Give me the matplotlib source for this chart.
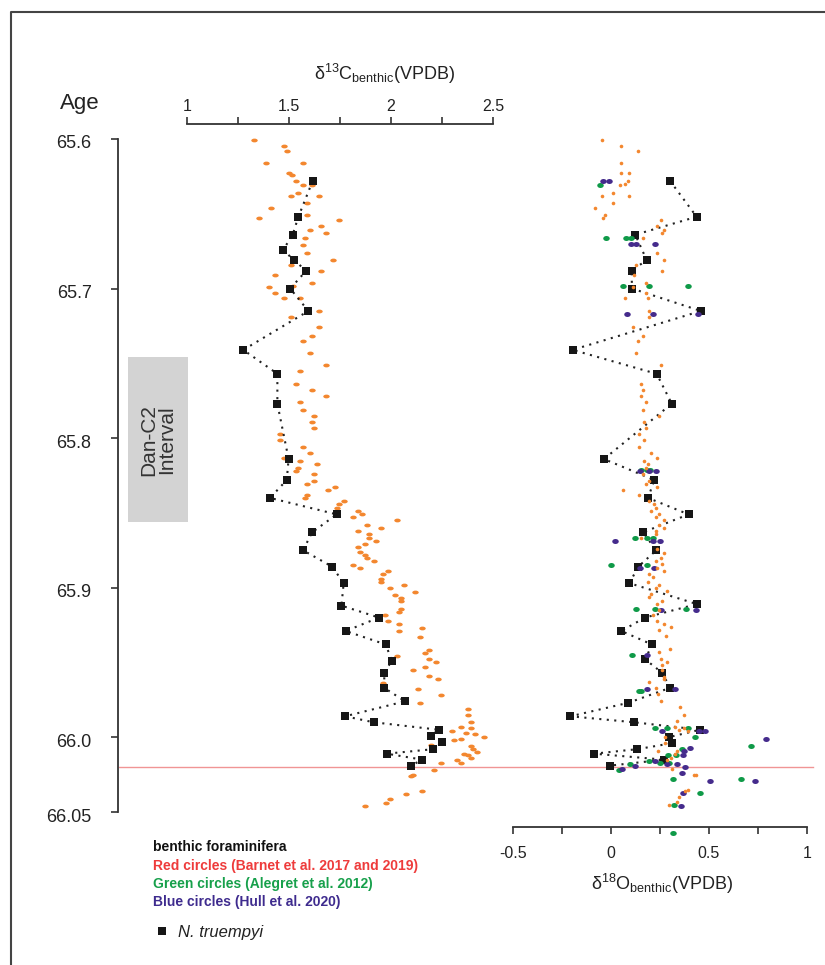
import matplotlib
matplotlib.use('Agg')
import matplotlib.pyplot as plt
from matplotlib.markers import MarkerStyle
from matplotlib.transforms import Affine2D, blended_transform_factory, ScaledTranslation
from matplotlib.patches import Rectangle
from matplotlib.lines import Line2D

plt.rcParams['font.family'] = ['Liberation Sans', 'DejaVu Sans']
plt.rcParams['mathtext.fontset'] = 'custom'
plt.rcParams['mathtext.rm'] = 'Liberation Sans'
plt.rcParams['mathtext.it'] = 'Liberation Sans:italic'

# ---- data (age in Ma, isotope values in permil VPDB) ----
# d13C, Barnet et al. (orange)
c13_age = [65.601, 65.605, 65.608, 65.616, 65.616, 65.623, 65.624, 65.628, 65.631, 65.631,
           65.636, 65.638, 65.638, 65.643, 65.646, 65.653, 65.651, 65.654, 65.658, 65.661,
           65.663, 65.666, 65.671, 65.676, 65.681, 65.684, 65.688, 65.691, 65.696, 65.699,
           65.698, 65.703, 65.706, 65.706, 65.715, 65.719, 65.726, 65.732, 65.735, 65.743,
           65.751, 65.755, 65.764, 65.768, 65.772, 65.776, 65.781, 65.785, 65.789, 65.793,
           65.797, 65.801, 65.806, 65.810, 65.813, 65.815, 65.817, 65.820, 65.822, 65.824,
           65.829, 65.831, 65.833, 65.835, 65.838, 65.840, 65.842, 65.844, 65.847, 65.849,
           65.851, 65.853, 65.855, 65.858, 65.860, 65.862, 65.864, 65.867, 65.869, 65.871,
           65.873, 65.876, 65.878, 65.880, 65.882, 65.885, 65.887, 65.889, 65.891, 65.894,
           65.896, 65.898, 65.900, 65.903, 65.905, 65.907, 65.909, 65.914, 65.916, 65.918,
           65.922, 65.924, 65.927, 65.929, 65.933, 65.942, 65.944, 65.946, 65.948, 65.950,
           65.953, 65.955, 65.959, 65.961, 65.964, 65.968, 65.972, 65.977, 65.981, 65.985,
           65.990, 65.993, 65.994, 65.996, 65.997, 65.998, 66.000, 66.001, 66.002, 66.005,
           66.006, 66.008, 66.010, 66.011, 66.012, 66.014, 66.015, 66.017, 66.017, 66.022,
           66.025, 66.026, 66.036, 66.038, 66.041, 66.044, 66.046]
c13_val = [1.330, 1.477, 1.489, 1.387, 1.567, 1.502, 1.513, 1.534, 1.567, 1.614,
           1.546, 1.511, 1.647, 1.590, 1.410, 1.355, 1.590, 1.747, 1.657, 1.601,
           1.680, 1.580, 1.567, 1.590, 1.714, 1.511, 1.657, 1.433, 1.613, 1.400,
           1.521, 1.433, 1.477, 1.556, 1.647, 1.511, 1.647, 1.613, 1.567, 1.601,
           1.680, 1.556, 1.534, 1.613, 1.680, 1.556, 1.567, 1.624, 1.613, 1.624,
           1.454, 1.454, 1.567, 1.601, 1.477, 1.556, 1.636, 1.546, 1.534, 1.624,
           1.624, 1.590, 1.725, 1.691, 1.590, 1.578, 1.770, 1.747, 1.735, 1.837,
           1.859, 1.815, 2.028, 1.882, 1.949, 1.837, 1.894, 1.894, 1.926, 1.871,
           1.837, 1.848, 1.871, 1.882, 1.917, 1.815, 1.848, 1.984, 1.961, 1.949,
           1.949, 2.062, 1.995, 2.118, 2.018, 2.051, 2.051, 2.051, 2.039, 1.972,
           1.984, 2.041, 2.154, 2.041, 2.142, 2.188, 2.165, 2.029, 2.188, 2.221,
           2.165, 2.108, 2.188, 2.232, 1.962, 2.131, 2.243, 2.142, 2.379, 2.379,
           2.391, 2.345, 2.391, 2.299, 2.368, 2.413, 2.458, 2.345, 2.310, 2.196,
           2.391, 2.402, 2.423, 2.356, 2.379, 2.391, 2.322, 2.345, 2.243, 2.209,
           2.109, 2.098, 2.154, 2.075, 1.995, 1.974, 1.871]

# d18O, Barnet et al. (orange)
o18_age = [65.601, 65.605, 65.608, 65.616, 65.623, 65.623, 65.628, 65.631, 65.630, 65.636,
           65.638, 65.638, 65.643, 65.646, 65.651, 65.653, 65.654, 65.658, 65.661, 65.663,
           65.666, 65.676, 65.681, 65.684, 65.688, 65.691, 65.696, 65.699, 65.703, 65.706,
           65.706, 65.715, 65.719, 65.726, 65.732, 65.735, 65.743, 65.751, 65.764, 65.768,
           65.772, 65.776, 65.781, 65.785, 65.789, 65.793, 65.797, 65.801, 65.806, 65.810,
           65.813, 65.815, 65.817, 65.820, 65.824, 65.829, 65.831, 65.833, 65.835, 65.838,
           65.842, 65.844, 65.847, 65.849, 65.851, 65.853, 65.855, 65.858, 65.860, 65.862,
           65.864, 65.867, 65.874, 65.877, 65.880, 65.882, 65.884, 65.887, 65.889, 65.891,
           65.893, 65.896, 65.898, 65.900, 65.902, 65.904, 65.906, 65.909, 65.911, 65.915,
           65.918, 65.922, 65.924, 65.926, 65.928, 65.932, 65.941, 65.943, 65.948, 65.950,
           65.952, 65.955, 65.960, 65.961, 65.963, 65.967, 65.971, 65.976, 65.980, 65.985,
           65.989, 65.993, 65.994, 65.995, 65.996, 66.000, 66.004, 66.009, 66.009, 66.011,
           66.014, 66.015, 66.021, 66.025, 66.025, 66.035, 66.036, 66.040, 66.043, 66.045]
o18_val = [-0.048, 0.053, 0.136, 0.053, 0.053, 0.094, 0.085, 0.044, 0.070, 0.010,
           -0.048, 0.094, 0.010, -0.082, -0.031, -0.039, 0.253, 0.236, 0.270, 0.262,
           0.162, 0.236, 0.270, 0.128, 0.262, 0.119, 0.179, 0.111, 0.179, 0.187,
           0.070, 0.196, 0.196, 0.111, 0.162, 0.136, 0.128, 0.253, 0.153, 0.162,
           0.153, 0.179, 0.162, 0.247, 0.170, 0.179, 0.145, 0.170, 0.145, 0.204,
           0.236, 0.170, 0.187, 0.179, 0.162, 0.196, 0.179, 0.236, 0.061, 0.145,
           0.196, 0.221, 0.228, 0.204, 0.245, 0.228, 0.270, 0.245, 0.270, 0.228,
           0.228, 0.153, 0.236, 0.270, 0.253, 0.228, 0.262, 0.236, 0.270, 0.196,
           0.213, 0.187, 0.245, 0.228, 0.287, 0.204, 0.196, 0.262, 0.236, 0.245,
           0.213, 0.236, 0.270, 0.304, 0.245, 0.279, 0.299, 0.245, 0.255, 0.287,
           0.262, 0.262, 0.270, 0.270, 0.196, 0.228, 0.238, 0.253, 0.354, 0.371,
           0.337, 0.328, 0.374, 0.345, 0.395, 0.277, 0.277, 0.241, 0.337, 0.328,
           0.304, 0.286, 0.313, 0.422, 0.435, 0.395, 0.378, 0.345, 0.337, 0.294]

# d18O, Alegret et al. 2012 (green)
green_age = [65.631, 65.666, 65.666, 65.666, 65.698, 65.698, 65.698, 65.821, 65.821, 65.821,
             65.867, 65.867, 65.867, 65.885, 65.885, 65.914, 65.914, 65.914, 65.945, 65.969,
             65.969, 65.994, 65.994, 65.994, 66.000, 66.006, 66.008, 66.012, 66.012, 66.016,
             66.017, 66.017, 66.018, 66.022, 66.028, 66.028, 66.037, 66.045, 66.064]
green_val = [-0.054, -0.026, 0.078, 0.102, 0.060, 0.194, 0.395, 0.153, 0.182, 0.199,
             0.124, 0.184, 0.216, 0.002, 0.185, 0.126, 0.223, 0.383, 0.105, 0.145,
             0.151, 0.224, 0.287, 0.395, 0.429, 0.716, 0.361, 0.330, 0.289, 0.192,
             0.252, 0.298, 0.099, 0.039, 0.316, 0.665, 0.456, 0.321, 0.318]

# d18O, Hull et al. 2020 (blue/purple)
blue_age = [65.628, 65.628, 65.670, 65.670, 65.670, 65.717, 65.717, 65.717, 65.822, 65.822,
            65.822, 65.869, 65.869, 65.869, 65.887, 65.887, 65.915, 65.915, 65.945, 65.968,
            65.968, 65.996, 65.996, 65.996, 66.001, 66.007, 66.009, 66.012, 66.016, 66.018,
            66.018, 66.019, 66.020, 66.021, 66.024, 66.029, 66.029, 66.037, 66.046]
blue_val = [-0.041, -0.012, 0.102, 0.126, 0.224, 0.080, 0.214, 0.442, 0.146, 0.192,
            0.230, 0.019, 0.214, 0.248, 0.150, 0.218, 0.257, 0.432, 0.182, 0.182,
            0.325, 0.259, 0.449, 0.480, 0.789, 0.405, 0.372, 0.366, 0.224, 0.286,
            0.337, 0.124, 0.376, 0.058, 0.362, 0.507, 0.736, 0.367, 0.359]

# N. truempyi (black squares)
nt_c_age = [65.628, 65.652, 65.664, 65.674, 65.681, 65.688, 65.700, 65.715, 65.741, 65.757,
            65.777, 65.814, 65.828, 65.840, 65.851, 65.863, 65.875, 65.886, 65.897, 65.912,
            65.920, 65.929, 65.938, 65.949, 65.957, 65.967, 65.976, 65.986, 65.990, 65.995,
            65.999, 66.003, 66.008, 66.011, 66.015, 66.019]
nt_c_val = [1.616, 1.546, 1.518, 1.472, 1.523, 1.585, 1.506, 1.595, 1.276, 1.443,
            1.443, 1.498, 1.489, 1.407, 1.734, 1.613, 1.569, 1.712, 1.768, 1.757,
            1.941, 1.778, 1.975, 2.003, 1.967, 1.967, 2.069, 1.775, 1.915, 2.234,
            2.196, 2.252, 2.208, 1.979, 2.154, 2.098]
nt_o_age = [65.628, 65.652, 65.664, 65.681, 65.688, 65.700, 65.715, 65.741, 65.757, 65.777,
            65.814, 65.828, 65.840, 65.851, 65.863, 65.875, 65.886, 65.897, 65.911, 65.920,
            65.929, 65.938, 65.948, 65.957, 65.967, 65.977, 65.986, 65.990, 65.995, 66.000,
            66.004, 66.008, 66.011, 66.015, 66.019]
nt_o_val = [0.301, 0.437, 0.124, 0.182, 0.105, 0.107, 0.459, -0.196, 0.233, 0.310,
            -0.036, 0.221, 0.189, 0.396, 0.163, 0.231, 0.139, 0.094, 0.439, 0.173,
            0.053, 0.209, 0.175, 0.262, 0.301, 0.088, -0.207, 0.117, 0.454, 0.294,
            0.311, 0.134, -0.087, 0.270, -0.005]

age_ticks = [65.6, 65.7, 65.8, 65.9, 66.0, 66.05]
age_labels = ['65.6', '65.7', '65.8', '65.9', '66.0', '66.05']
kpg_age = 66.02
dan_c2 = (65.746, 65.856)

ORANGE = '#f3872f'
GREEN = '#0f9a48'
PURPLE = '#452b8c'
SQ = '#161616'
AXC = '#333333'

W, H = 825, 965
fig = plt.figure(figsize=(W / 100, H / 100), dpi=100)


def fx(px):
    return px / W


def fy(py):
    return 1 - py / H


y_top, y_bot = 139, 812
ax_c = fig.add_axes([fx(187), fy(y_bot), fx(493) - fx(187), fy(y_top) - fy(y_bot)])
ax_o = fig.add_axes([fx(513), fy(y_bot), fx(807) - fx(513), fy(y_top) - fy(y_bot)])

for ax in (ax_c, ax_o):
    ax.set_ylim(66.05, 65.6)
    ax.patch.set_visible(False)
    for s in ax.spines.values():
        s.set_visible(False)
        s.set_color(AXC)
        s.set_linewidth(1.3)

# --- d13C panel ---
ell_c = MarkerStyle('o', transform=Affine2D().scale(1.45, 0.85))
ax_c.plot(c13_val, c13_age, ls='none', marker=ell_c, ms=3.2, color=ORANGE, mew=0, clip_on=False, zorder=2)
ax_c.plot(nt_c_val, nt_c_age, color='#222222', lw=1.5, ls=(0, (1, 2.6)), clip_on=False, zorder=3)
ax_c.plot(nt_c_val, nt_c_age, ls='none', marker='s', ms=6.4, color=SQ, mew=0, clip_on=False, zorder=4)

ax_c.set_xlim(1, 2.5)
ax_c.spines['top'].set_visible(True)
ax_c.spines['top'].set_position(('outward', 15 * 0.72))
ax_c.xaxis.tick_top()
ax_c.set_xticks([1, 1.5, 2, 2.5])
ax_c.set_xticklabels(['1', '1.5', '2', '2.5'])
ax_c.set_xticks([1.25, 1.75, 2.25], minor=True)
ax_c.tick_params(axis='x', which='both', direction='out', length=5, width=1.2, color=AXC,
                 labelsize=11.5, pad=2, labelcolor='#222222')

ax_c.spines['left'].set_visible(True)
ax_c.spines['left'].set_position(('outward', 69 * 0.72))
ax_c.spines['left'].set_bounds(65.6, 66.05)
ax_c.set_yticks(age_ticks)
ax_c.set_yticklabels(age_labels)
ax_c.tick_params(axis='y', direction='out', length=5, width=1.2, color=AXC,
                 labelsize=13, pad=14, labelcolor='#222222')
shift = ScaledTranslation(0, -3 / 100, fig.dpi_scale_trans)
for lab in ax_c.get_yticklabels():
    lab.set_transform(lab.get_transform() + shift)

# --- d18O panel ---
ell_g = MarkerStyle('o', transform=Affine2D().scale(1.3, 1.0))
ax_o.plot(nt_o_val, nt_o_age, color='#222222', lw=1.5, ls=(0, (1, 2.6)), clip_on=False, zorder=3)
ax_o.plot(nt_o_val, nt_o_age, ls='none', marker='s', ms=6.4, color=SQ, mew=0, clip_on=False, zorder=4)
ax_o.plot(green_val, green_age, ls='none', marker=ell_g, ms=3.6, color=GREEN, mew=0, clip_on=False, zorder=5)
ax_o.plot(blue_val, blue_age, ls='none', marker=ell_g, ms=3.6, color=PURPLE, mew=0, clip_on=False, zorder=5)
ax_o.plot(o18_val, o18_age, ls='none', marker='o', ms=2.6, color=ORANGE, mew=0, clip_on=False, zorder=6)

ax_o.set_xlim(-0.5, 1)
ax_o.spines['bottom'].set_visible(True)
ax_o.spines['bottom'].set_position(('outward', 15 * 0.72))
ax_o.set_xticks([-0.5, 0, 0.5, 1])
ax_o.set_xticklabels(['-0.5', '0', '0.5', '1'])
ax_o.set_xticks([-0.25, 0.25, 0.75], minor=True)
ax_o.set_yticks([])
ax_o.tick_params(axis='x', which='both', direction='out', length=5, width=1.2, color=AXC,
                 labelsize=11.5, pad=9, labelcolor='#222222')

# K-Pg boundary line across both panels
tr = blended_transform_factory(fig.transFigure, ax_c.transData)
ax_c.plot([fx(119), fx(813)], [kpg_age, kpg_age], transform=tr, color='#f09595', lw=1.0,
          clip_on=False, zorder=1)

# Dan-C2 box
ax_c.add_patch(Rectangle((fx(128), dan_c2[0]), fx(188) - fx(128), dan_c2[1] - dan_c2[0],
                         transform=tr, facecolor='#d3d3d3', edgecolor='none', clip_on=False, zorder=0))
ax_c.text(fx(158), (dan_c2[0] + dan_c2[1]) / 2, 'Dan-C2\nInterval', transform=tr, rotation=90,
          ha='center', va='center', fontsize=15, color='#333333', linespacing=0.95)

# titles
fig.text(fx(80), fy(103), 'Age', ha='center', va='center', fontsize=16, color='#222222')
fig.text(fx(384), fy(74), r'δ$^{13}$C$_{\mathrm{benthic}}$(VPDB)', ha='center', va='center',
         fontsize=13, color='#222222')
fig.text(fx(662), fy(884), r'δ$^{18}$O$_{\mathrm{benthic}}$(VPDB)', ha='center', va='center',
         fontsize=13, color='#222222')

# legend text
fig.text(fx(153), fy(847), 'benthic foraminifera', fontsize=10, fontweight='bold', color='#111111', va='center')
fig.text(fx(153), fy(866), 'Red circles (Barnet et al. 2017 and 2019)', fontsize=10, fontweight='bold',
         color='#ee3b3b', va='center')
fig.text(fx(153), fy(884), 'Green circles (Alegret et al. 2012)', fontsize=10, fontweight='bold',
         color='#17a04b', va='center')
fig.text(fx(153), fy(902), 'Blue circles (Hull et al. 2020)', fontsize=10, fontweight='bold',
         color='#3e2b8e', va='center')
fig.add_artist(Line2D([fx(162)], [fy(931)], marker='s', ms=6.4, color=SQ, mew=0, transform=fig.transFigure))
fig.text(fx(178), fy(932), 'N. truempyi', fontsize=12, fontstyle='italic', color='#222222', va='center')

# outer frame (left and top edges)
fig.add_artist(Line2D([fx(11), fx(11), 1], [0, fy(12), fy(12)], color='#444444', lw=1.5,
                      transform=fig.transFigure))

fig.savefig('out.png', dpi=100, facecolor='white')
